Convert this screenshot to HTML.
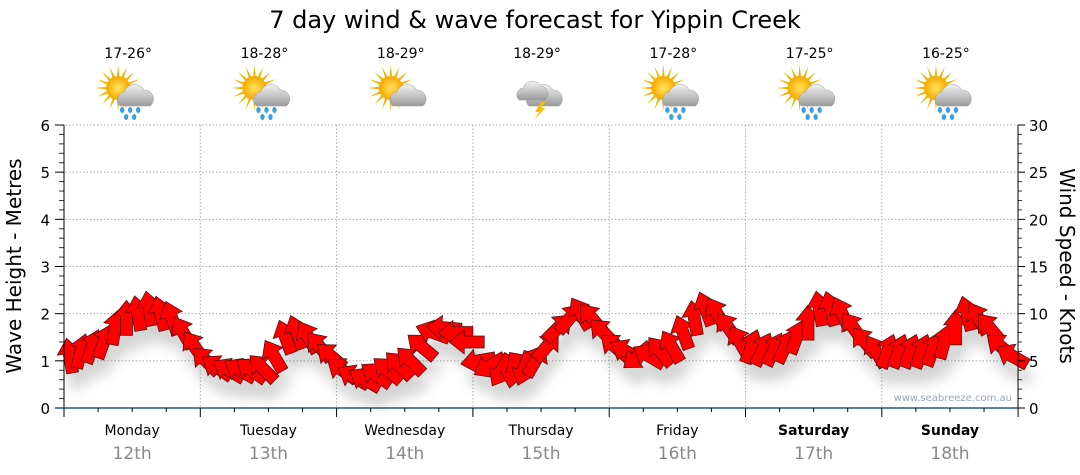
<!DOCTYPE html>
<html><head><meta charset="utf-8"><style>
body{margin:0;background:#fff;font-family:"DejaVu Sans","Liberation Sans",sans-serif;}
svg{display:block}
</style></head><body>
<svg id="chart" width="1080" height="475" viewBox="0 0 1080 475" font-family="DejaVu Sans, Liberation Sans, sans-serif">
<defs>
<filter id="sh" x="-50%" y="-50%" width="200%" height="200%"><feGaussianBlur stdDeviation="6"/></filter>
<radialGradient id="sun" cx="50%" cy="50%" r="50%"><stop offset="0" stop-color="#ffe45a"/><stop offset="1" stop-color="#f5a800"/></radialGradient>
<linearGradient id="cloud" x1="0" y1="0" x2="0" y2="1"><stop offset="0" stop-color="#f2f2f2"/><stop offset="1" stop-color="#9a9a9a"/></linearGradient>
</defs>
<text x="535" y="28" font-size="24" text-anchor="middle" fill="#000">7 day wind &amp; wave forecast for Yippin Creek</text>
<g id="grid"></g>
<g id="icons"></g>
<g id="shadow" filter="url(#sh)" opacity="0.25"></g>
<g id="arrows"></g>
<g id="axes"></g>
<text transform="translate(21,266) rotate(-90)" font-size="20" text-anchor="middle">Wave Height - Metres</text>
<text transform="translate(1060,266) rotate(90)" font-size="20" text-anchor="middle">Wind Speed - Knots</text>
<text x="1012" y="401" font-size="10" text-anchor="end" fill="#9aa6b2">www.seabreeze.com.au</text>
</svg>
<script>
const days=["Monday","Tuesday","Wednesday","Thursday","Friday","Saturday","Sunday"];
const dates=["12th","13th","14th","15th","16th","17th","18th"];
const temps=["17-26°","18-28°","18-29°","18-29°","17-28°","17-25°","16-25°"];
const icons=["rain","rain","cloud","storm","rain","rain","rain"];
const waveTicks=[0,1,2,3,4,5,6];
const windTicks=[0,5,10,15,20,25,30];
const windSpeed=[5.5,6,6.5,7,8.5,9.5,10,10.5,10,9.5,8,6.5,
 5,4.3,4,4,4,4.2,5.5,7.5,8,7.5,6.5,5.5,
 4,3.3,3,3.5,4,4.5,5,6.5,8,8.5,8,7,
 5,4.5,4,4,4.2,5,6.5,8.5,9.5,10,9.5,8,
 6.5,6,5.5,5.5,6,6.5,8,9.5,10.5,10,8.5,7,
 6.5,6.2,6.2,6.5,7.5,9,10.5,10.5,10,8.5,7,6,
 6,6,6,6,6.2,7,8.5,10,9.5,8.5,6.5,5.5];
const windDir=[-10,15,20,20,10,0,-10,-10,-15,-20,-30,-35,
 -45,-55,-60,-60,-55,-45,-30,-20,-20,-30,-40,-50,
 -55,-60,-60,-55,-50,-45,-45,-50,-70,-85,-90,-90,
 -100,-120,-150,-170,-160,30,40,45,40,-30,-40,-45,
 -50,-60,-130,-60,-40,-30,-20,-10,-20,-30,-35,-30,
 20,25,25,25,20,0,-10,-15,-25,-35,-40,-30,
 20,20,20,20,20,15,0,-15,-30,-40,-50,-60];
const NS="http://www.w3.org/2000/svg";
const X0=64,DW=136.3,YB=408,YT=125,XR=1018;
const yWave=v=>YB-(YB-YT)*v/6, yWind=v=>YB-(YB-YT)*v/30, xDay=d=>X0+DW*d;
function mk(tag,attrs,parent,txt){const e=document.createElementNS(NS,tag);for(const k in attrs)e.setAttribute(k,attrs[k]);if(txt!==undefined)e.textContent=txt;parent.appendChild(e);return e;}
const grid=document.getElementById('grid'),axes=document.getElementById('axes'),ic=document.getElementById('icons'),ar=document.getElementById('arrows'),sh=document.getElementById('shadow');
waveTicks.forEach(v=>{
 if(v>0){const l=mk('line',{x1:X0-2,x2:XR,y1:yWave(v),y2:yWave(v),stroke:'#aaa','stroke-dasharray':'1.5,2'},grid);
 }
 const t=mk('text',{x:50,y:yWave(v)+6,'font-size':15,'text-anchor':'end'},axes,String(v));
 
 mk('line',{x1:55,x2:X0,y1:yWave(v),y2:yWave(v),stroke:'#000'},axes);
});
for(let i=0;i<30;i++){if(i%5)mk('line',{x1:59,x2:X0,y1:yWave(i/5),y2:yWave(i/5),stroke:'#333'},axes);}
windTicks.forEach(v=>{
 const t=mk('text',{x:1029,y:yWind(v)+6,'font-size':15},axes,String(v));
 
 mk('line',{x1:XR,x2:XR+7,y1:yWind(v),y2:yWind(v),stroke:'#000'},axes);
});
for(let i=0;i<30;i++){if(i%5)mk('line',{x1:XR,x2:XR+4,y1:yWind(i),y2:yWind(i),stroke:'#333'},axes);}
mk('line',{x1:X0,x2:X0,y1:YT,y2:YB,stroke:'#000'},axes);
mk('line',{x1:XR,x2:XR,y1:YT,y2:YB,stroke:'#000'},axes);
mk('line',{x1:55,x2:XR,y1:YB,y2:YB,stroke:'#1e5a80','stroke-width':1.5},axes);
mk('line',{x1:X0,x2:X0,y1:YB,y2:YB+9,stroke:'#000'},axes);
for(let d=0;d<7;d++){
 const cx=xDay(d)+DW/2;
 if(d>0){const l=mk('line',{x1:xDay(d),x2:xDay(d),y1:YT,y2:YB,stroke:'#aaa','stroke-dasharray':'1.5,2'},grid);
  }
 mk('line',{x1:xDay(d+1),x2:xDay(d+1),y1:YB,y2:YB+9,stroke:'#000'},axes);
 for(let q=1;q<4;q++)mk('line',{x1:xDay(d)+q*DW/4,x2:xDay(d)+q*DW/4,y1:YB,y2:YB+4,stroke:'#000'},axes);
 const dn=mk('text',{x:cx,y:435,'font-size':14,'text-anchor':'middle','font-weight':d>=5?'bold':'normal'},axes,days[d]);
 
 const dt=mk('text',{x:cx,y:459,'font-size':17,'text-anchor':'middle',fill:'#888'},axes,dates[d]);
 
 const tp=mk('text',{x:cx-4,y:58,'font-size':14,'text-anchor':'middle'},ic,temps[d]);
 
 const g=mk('g',{transform:`translate(${cx-4},94)`},ic);
 
 if(icons[d]!=='storm'){
  for(let r=0;r<16;r++){const a=r*Math.PI/8;mk('polygon',{points:`${-10+Math.cos(a-0.15)*10},${-6+Math.sin(a-0.15)*10} ${-10+Math.cos(a)*23},${-6+Math.sin(a)*23} ${-10+Math.cos(a+0.15)*10},${-6+Math.sin(a+0.15)*10}`,fill:'#f2b300'},g);}
  mk('circle',{cx:-10,cy:-6,r:12,fill:'url(#sun)'},g);
 }
 mk('path',{d:'M-8,12 a8,8 0 0 1 4,-14 a11,11 0 0 1 20,-2 a9,9 0 0 1 6,16 z',fill:'url(#cloud)',stroke:'#999','stroke-width':0.5},g);
 if(icons[d]==='storm'){mk('path',{d:'M-18,6 a7,7 0 0 1 4,-12 a10,10 0 0 1 18,-2 a8,8 0 0 1 4,14 z',fill:'url(#cloud)',stroke:'#999','stroke-width':0.5},g);
  mk('polygon',{points:'4,8 -2,18 2,18 -3,26 8,14 4,14 8,8',fill:'#f5c000'},g);}
 if(icons[d]==='rain'){[[-6,16],[2,16],[10,16],[-2,23],[6,23]].forEach(p=>mk('ellipse',{cx:p[0],cy:p[1],rx:2.2,ry:3,fill:'#3aa0e0'},g));}
}
const AP='0,-18 12,-3 6,-3 6,17 -6,17 -6,-3 -12,-3';
windSpeed.forEach((v,i)=>{
 const x=X0+DW/12*(i+0.5),y=yWind(v);
 mk('polygon',{points:AP,transform:`translate(${x+4},${y+16}) rotate(${windDir[i]})`,fill:'#555'},sh);
 const p=mk('polygon',{points:AP,transform:`translate(${x},${y}) rotate(${windDir[i]})`,fill:'#ff0000',stroke:'#5a1010','stroke-width':0.8},ar);
 
 
});
</script>
</body></html>
